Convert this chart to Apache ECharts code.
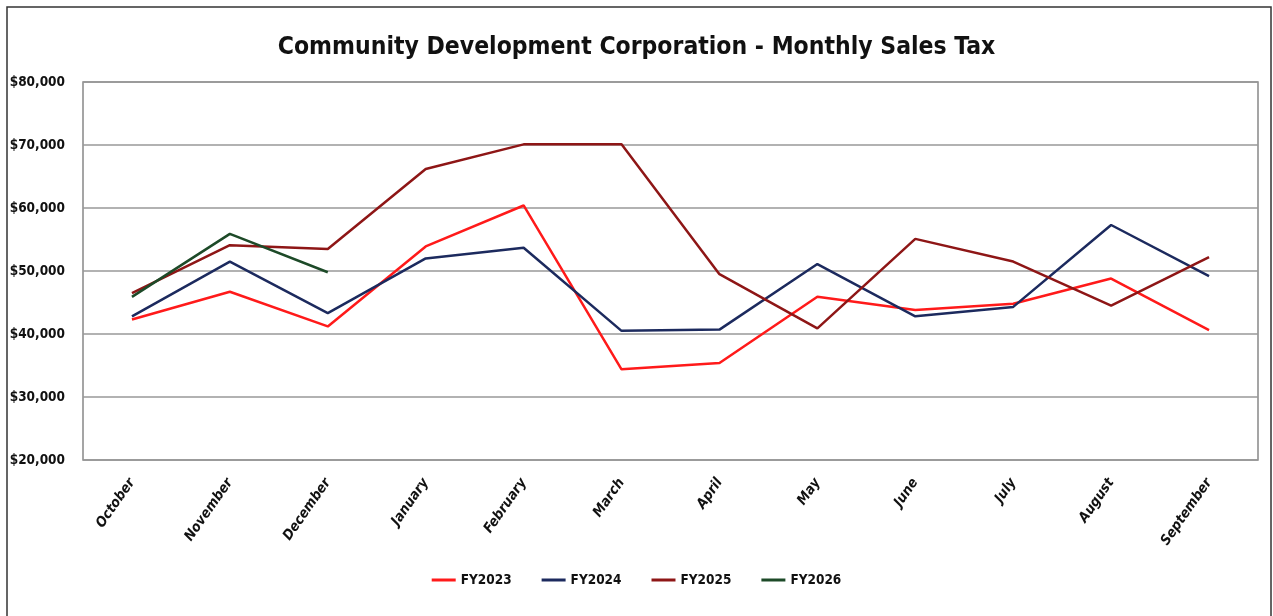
<!DOCTYPE html>
<html>
<head>
<meta charset="utf-8">
<script src="https://cdn.jsdelivr.net/npm/echarts@6/dist/echarts.min.js"></script>
<style>
  html, body { margin: 0; padding: 0; background: #fff; }
  #chart { width: 1273px; height: 616px; }
</style>
</head>
<body>
<div id="chart"></div>
<script>
// 月份（财年 10 月起）
var months = ['October', 'November', 'December', 'January', 'February', 'March',
              'April', 'May', 'June', 'July', 'August', 'September'];

// 各财年月度销售税
var fy2023 = [42300, 46700, 41200, 53900, 60400, 34400, 35400, 45900, 43800, 44800, 48800, 40600];
var fy2024 = [42800, 51500, 43300, 52000, 53700, 40500, 40700, 51100, 42800, 44300, 57300, 49200];
var fy2025 = [46500, 54100, 53500, 66200, 70100, 70100, 49500, 40900, 55100, 51500, 44500, 52200];
var fy2026 = [45900, 55900, 49800];

var yTicks = [20000, 30000, 40000, 50000, 60000, 70000, 80000];

var font = '"DejaVu Sans Condensed", "Liberation Sans Narrow", sans-serif';

function makeLine(name, data, color) {
    return {
        name: name,
        type: 'line',
        data: data,
        symbol: 'none',
        lineStyle: { width: 2.5, color: color },
        itemStyle: { color: color }
    };
}

var myChart = echarts.init(document.getElementById('chart'));
var option = {
    backgroundColor: '#fff',
    animation: false,
    title: {
        text: 'Community Development Corporation - Monthly Sales Tax',
        left: 'center',
        top: 30,
        textStyle: { fontFamily: font, fontSize: 24.5, fontWeight: 'bold', color: '#111' }
    },
    graphic: [{
        type: 'rect',
        shape: { x: 7, y: 7, width: 1264, height: 640 },
        style: { fill: 'none', stroke: '#333', lineWidth: 1.5 },
        silent: true
    }],
    legend: {
        bottom: 24,
        left: 'center',
        itemWidth: 24,
        itemHeight: 3,
        itemGap: 30,
        icon: 'rect',
        textStyle: { fontFamily: font, fontSize: 13.5, fontWeight: 'bold', color: '#111' },
        data: ['FY2023', 'FY2024', 'FY2025', 'FY2026']
    },
    grid: {
        left: 83,
        right: 15,
        top: 82,
        bottom: 156,
        show: true,
        borderColor: '#888',
        borderWidth: 1.5
    },
    xAxis: {
        type: 'category',
        data: months,
        boundaryGap: true,
        axisLine: { show: false },
        axisTick: { show: false },
        axisLabel: {
            rotate: 55,
            margin: 20,
            fontFamily: font,
            fontSize: 14,
            fontWeight: 'bold',
            fontStyle: 'italic',
            color: '#111'
        }
    },
    yAxis: {
        type: 'value',
        min: yTicks[0],
        max: yTicks[yTicks.length - 1],
        interval: 10000,
        axisLine: { show: false },
        axisTick: { show: false },
        splitLine: { lineStyle: { color: '#999', width: 1.5 } },
        axisLabel: {
            margin: 18,
            fontFamily: font,
            fontSize: 13.5,
            fontWeight: 'bold',
            color: '#111',
            formatter: function (v) {
                return '$' + v.toLocaleString('en-US');
            }
        }
    },
    series: [
        makeLine('FY2023', fy2023, '#ff1a1a'),
        makeLine('FY2024', fy2024, '#1c2a5e'),
        makeLine('FY2025', fy2025, '#8e1616'),
        makeLine('FY2026', fy2026, '#1d4a28')
    ]
};
myChart.setOption(option);
</script>
</body>
</html>
